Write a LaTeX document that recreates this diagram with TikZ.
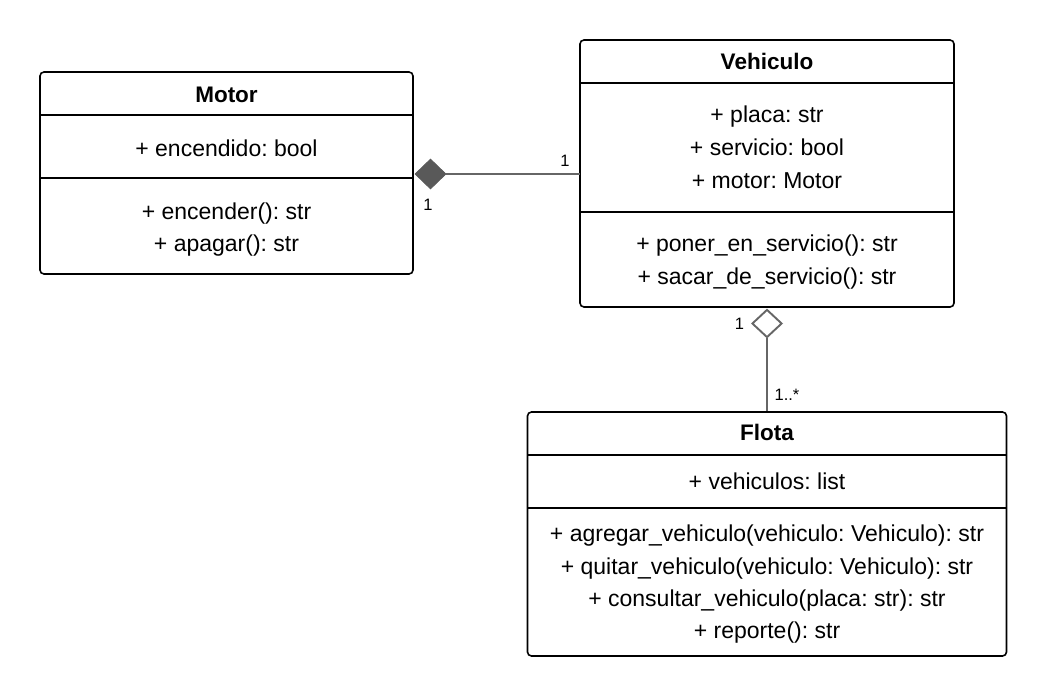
\documentclass[tikz,border=0pt]{standalone}
\usepackage{fontspec}
\setmainfont{Liberation Sans}
\usetikzlibrary{shapes.geometric}
\definecolor{linegray}{HTML}{666666}
\definecolor{fillgray}{HTML}{595959}
\frenchspacing
\begin{document}
\begin{tikzpicture}[x=1pt,y=-1pt,
  classbox/.style={draw=black,line width=1.6pt,rounded corners=4pt,inner sep=0pt,fill=white},
  divider/.style={draw=black,line width=1.6pt},
  member/.style={inner sep=0pt,font=\fontsize{23}{26}\selectfont,anchor=base},
  ctitle/.style={inner sep=0pt,font=\fontsize{22.5}{26}\selectfont\bfseries,anchor=base},
  conn/.style={draw=linegray,line width=1.9pt},
  mult/.style={inner sep=0pt,font=\fontsize{16.5}{19}\selectfont,anchor=base},
  composite/.style={diamond,draw=fillgray,fill=fillgray,line width=0.8pt,inner sep=0pt,minimum width=31pt,minimum height=30pt},
  aggregate/.style={diamond,draw=linegray,fill=white,line width=1.9pt,inner sep=0pt,minimum width=30pt,minimum height=28pt}
]
\useasboundingbox (0,0) rectangle (1047,696);
\fill[white] (0,0) rectangle (1047,696);

% Motor
\node[classbox,minimum width=373pt,minimum height=202pt] (motor) at (226.5,173) {};
\draw[divider] (40,115) -- (413,115);
\draw[divider] (40,178) -- (413,178);
\node[ctitle] (motorT) at (226.5,102) {Motor};
\node[member] (motorA1) at (226.5,156) {+ encendido: bool};
\node[member] (motorM1) at (226.5,219) {+ encender(): str};
\node[member] (motorM2) at (226.5,251) {+ apagar(): str};

% Vehiculo
\node[classbox,minimum width=374pt,minimum height=267pt] (veh) at (767,173.5) {};
\draw[divider] (580,83) -- (954,83);
\draw[divider] (580,212) -- (954,212);
\node[ctitle] (vehT) at (767,69) {Vehiculo};
\node[member] (vehA1) at (767,122) {+ placa: str};
\node[member] (vehA2) at (767,155) {+ servicio: bool};
\node[member] (vehA3) at (767,188) {+ motor: Motor};
\node[member] (vehM1) at (767,251) {+ poner\_en\_servicio(): str};
\node[member] (vehM2) at (767,284) {+ sacar\_de\_servicio(): str};

% Flota
\node[classbox,minimum width=479pt,minimum height=244pt] (flota) at (767,534) {};
\draw[divider] (527.5,455) -- (1006.5,455);
\draw[divider] (527.5,508) -- (1006.5,508);
\node[ctitle] (flotaT) at (767,440) {Flota};
\node[member] (flotaA1) at (767,489) {+ vehiculos: list};
\node[member] (flotaM1) at (767,541) {+ agregar\_vehiculo(vehiculo: Vehiculo): str};
\node[member] (flotaM2) at (767,574) {+ quitar\_vehiculo(vehiculo: Vehiculo): str};
\node[member] (flotaM3) at (767,606) {+ consultar\_vehiculo(placa: str): str};
\node[member] (flotaM4) at (767,638) {+ reporte(): str};

% Composition Motor - Vehiculo
\node[composite] (comp) at (430.5,174) {};
\coordinate (vehL) at (580,174);
\draw[conn] (comp.east) -- (vehL);
\node[mult] (m1) at (565,166) {1};
\node[mult] (m2) at (428,210) {1};

% Aggregation Vehiculo - Flota
\node[aggregate] (agg) at (767,323.5) {};
\draw[conn] (agg.south) -- (agg.south |- flota.north);
\node[mult] (m3) at (739.5,329) {1};
\node[mult] (m4) at (787,400) {1..*};
\end{tikzpicture}
\end{document}
